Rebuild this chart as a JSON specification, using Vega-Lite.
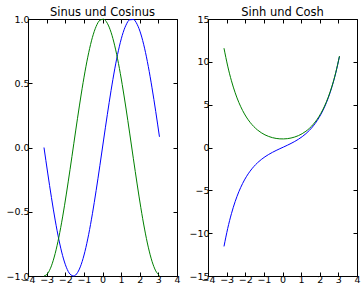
{
  "$schema": "https://vega.github.io/schema/vega-lite/v6.json",
  "padding": {"left": 5, "top": 6, "right": 0, "bottom": 0},
  "background": "white",
  "spacing": 31,
  "bounds": "flush",
  "config": {
    "font": "DejaVu Sans",
    "view": {"stroke": "black", "strokeWidth": 1},
    "title": {"font": "DejaVu Sans", "fontSize": 11.5, "fontWeight": "normal", "color": "black", "offset": -4},
    "axis": {
      "domain": false, "grid": false, "tickSize": -4, "tickColor": "black", "tickWidth": 1,
      "labelColor": "black", "labelFont": "DejaVu Sans", "labelFontSize": 9.5, "labelPadding": 2, "title": null,
      "labelOverlap": false, "labelBound": false, "labelFlush": false
    },
    "axisY": {"labelPadding": 3}
  },
  "datasets": {
    "trig": [
      {"x": -3.1416, "sin": 0.0, "cos": -1.0},
      {"x": -2.9416, "sin": -0.1987, "cos": -0.9801},
      {"x": -2.7416, "sin": -0.3894, "cos": -0.9211},
      {"x": -2.5416, "sin": -0.5646, "cos": -0.8253},
      {"x": -2.3416, "sin": -0.7174, "cos": -0.6967},
      {"x": -2.1416, "sin": -0.8415, "cos": -0.5403},
      {"x": -1.9416, "sin": -0.932, "cos": -0.3624},
      {"x": -1.7416, "sin": -0.9854, "cos": -0.17},
      {"x": -1.5416, "sin": -0.9996, "cos": 0.0292},
      {"x": -1.3416, "sin": -0.9738, "cos": 0.2272},
      {"x": -1.1416, "sin": -0.9093, "cos": 0.4161},
      {"x": -0.9416, "sin": -0.8085, "cos": 0.5885},
      {"x": -0.7416, "sin": -0.6755, "cos": 0.7374},
      {"x": -0.5416, "sin": -0.5155, "cos": 0.8569},
      {"x": -0.3416, "sin": -0.335, "cos": 0.9422},
      {"x": -0.1416, "sin": -0.1411, "cos": 0.99},
      {"x": 0.0584, "sin": 0.0584, "cos": 0.9983},
      {"x": 0.2584, "sin": 0.2555, "cos": 0.9668},
      {"x": 0.4584, "sin": 0.4425, "cos": 0.8968},
      {"x": 0.6584, "sin": 0.6119, "cos": 0.791},
      {"x": 0.8584, "sin": 0.7568, "cos": 0.6536},
      {"x": 1.0584, "sin": 0.8716, "cos": 0.4903},
      {"x": 1.2584, "sin": 0.9516, "cos": 0.3073},
      {"x": 1.4584, "sin": 0.9937, "cos": 0.1122},
      {"x": 1.6584, "sin": 0.9962, "cos": -0.0875},
      {"x": 1.8584, "sin": 0.9589, "cos": -0.2837},
      {"x": 2.0584, "sin": 0.8835, "cos": -0.4685},
      {"x": 2.2584, "sin": 0.7728, "cos": -0.6347},
      {"x": 2.4584, "sin": 0.6313, "cos": -0.7756},
      {"x": 2.6584, "sin": 0.4646, "cos": -0.8855},
      {"x": 2.8584, "sin": 0.2794, "cos": -0.9602},
      {"x": 3.0584, "sin": 0.0831, "cos": -0.9965}
    ],
    "hyp": [
      {"x": -3.1416, "sinh": -11.5487, "cosh": 11.592},
      {"x": -2.9416, "sinh": -9.4466, "cosh": 9.4994},
      {"x": -2.7416, "sinh": -7.7236, "cosh": 7.788},
      {"x": -2.5416, "sinh": -6.3105, "cosh": 6.3893},
      {"x": -2.3416, "sinh": -5.1507, "cosh": 5.2468},
      {"x": -2.1416, "sinh": -4.1977, "cosh": 4.3152},
      {"x": -1.9416, "sinh": -3.4131, "cosh": 3.5566},
      {"x": -1.7416, "sinh": -2.7656, "cosh": 2.9408},
      {"x": -1.5416, "sinh": -2.229, "cosh": 2.443},
      {"x": -1.3416, "sinh": -1.7818, "cosh": 2.0433},
      {"x": -1.1416, "sinh": -1.4062, "cosh": 1.7255},
      {"x": -0.9416, "sinh": -1.087, "cosh": 1.477},
      {"x": -0.7416, "sinh": -0.8114, "cosh": 1.2878},
      {"x": -0.5416, "sinh": -0.5684, "cosh": 1.1503},
      {"x": -0.3416, "sinh": -0.3483, "cosh": 1.0589},
      {"x": -0.1416, "sinh": -0.1421, "cosh": 1.01},
      {"x": 0.0584, "sinh": 0.0584, "cosh": 1.0017},
      {"x": 0.2584, "sinh": 0.2613, "cosh": 1.0336},
      {"x": 0.4584, "sinh": 0.4746, "cosh": 1.1069},
      {"x": 0.6584, "sinh": 0.707, "cosh": 1.2247},
      {"x": 0.8584, "sinh": 0.9678, "cosh": 1.3916},
      {"x": 1.0584, "sinh": 1.2674, "cosh": 1.6144},
      {"x": 1.2584, "sinh": 1.6178, "cosh": 1.9019},
      {"x": 1.4584, "sinh": 2.0332, "cosh": 2.2658},
      {"x": 1.6584, "sinh": 2.5302, "cosh": 2.7207},
      {"x": 1.8584, "sinh": 3.1288, "cosh": 3.2847},
      {"x": 2.0584, "sinh": 3.8529, "cosh": 3.9805},
      {"x": 2.2584, "sinh": 4.7316, "cosh": 4.8361},
      {"x": 2.4584, "sinh": 5.8003, "cosh": 5.8858},
      {"x": 2.6584, "sinh": 7.1017, "cosh": 7.1718},
      {"x": 2.8584, "sinh": 8.6882, "cosh": 8.7455},
      {"x": 3.0584, "sinh": 10.6233, "cosh": 10.6703}
    ]
  },
  "hconcat": [
    {
      "width": 149,
      "height": 257,
      "title": "Sinus und Cosinus",
      "data": {"name": "trig"},
      "layer": [
        {
          "mark": {"type": "line", "color": "#0000ff", "strokeWidth": 1, "interpolate": "monotone"},
          "encoding": {
            "x": {"field": "x", "type": "quantitative", "scale": {"domain": [-4, 4], "nice": false, "zero": false},
                  "axis": {"orient": "bottom", "values": [-4, -3, -2, -1, 0, 1, 2, 3, 4], "format": "d"}},
            "y": {"field": "sin", "type": "quantitative", "scale": {"domain": [-1, 1], "nice": false, "zero": false},
                  "axis": {"orient": "left", "values": [-1, -0.5, 0, 0.5, 1], "format": ".1f"}}
          }
        },
        {
          "mark": {"type": "line", "color": "#008000", "strokeWidth": 1, "interpolate": "monotone"},
          "encoding": {
            "x": {"field": "x", "type": "quantitative", "scale": {"domain": [-4, 4], "nice": false, "zero": false},
                  "axis": {"orient": "top", "values": [-4, -3, -2, -1, 0, 1, 2, 3, 4], "labels": false}},
            "y": {"field": "cos", "type": "quantitative", "scale": {"domain": [-1, 1], "nice": false, "zero": false},
                  "axis": {"orient": "right", "values": [-1, -0.5, 0, 0.5, 1], "labels": false}}
          }
        }
      ]
    },
    {
      "width": 149,
      "height": 257,
      "title": "Sinh und Cosh",
      "data": {"name": "hyp"},
      "layer": [
        {
          "mark": {"type": "line", "color": "#0000ff", "strokeWidth": 1, "interpolate": "monotone"},
          "encoding": {
            "x": {"field": "x", "type": "quantitative", "scale": {"domain": [-4, 4], "nice": false, "zero": false},
                  "axis": {"orient": "bottom", "values": [-4, -3, -2, -1, 0, 1, 2, 3, 4], "format": "d"}},
            "y": {"field": "sinh", "type": "quantitative", "scale": {"domain": [-15, 15], "nice": false, "zero": false},
                  "axis": {"orient": "left", "values": [-15, -10, -5, 0, 5, 10, 15], "format": "d"}}
          }
        },
        {
          "mark": {"type": "line", "color": "#008000", "strokeWidth": 1, "interpolate": "monotone"},
          "encoding": {
            "x": {"field": "x", "type": "quantitative", "scale": {"domain": [-4, 4], "nice": false, "zero": false},
                  "axis": {"orient": "top", "values": [-4, -3, -2, -1, 0, 1, 2, 3, 4], "labels": false}},
            "y": {"field": "cosh", "type": "quantitative", "scale": {"domain": [-15, 15], "nice": false, "zero": false},
                  "axis": {"orient": "right", "values": [-15, -10, -5, 0, 5, 10, 15], "labels": false}}
          }
        }
      ]
    }
  ]
}
